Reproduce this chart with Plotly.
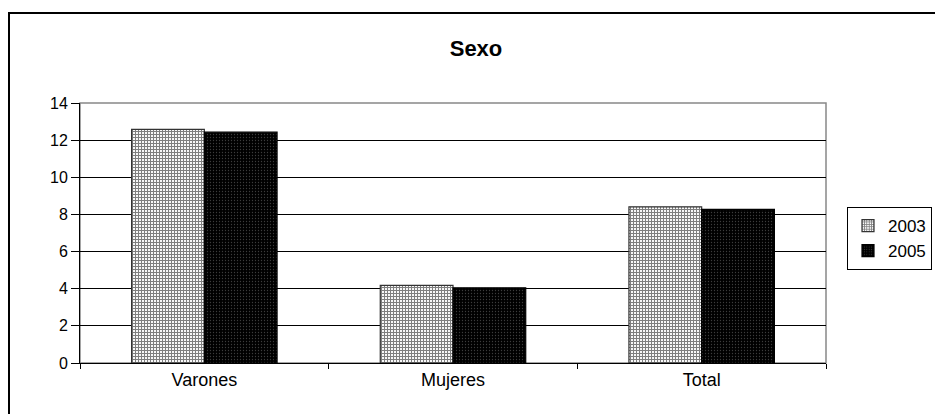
import plotly.graph_objects as go

categories = ["Varones", "Mujeres", "Total"]
series_names = ["2003", "2005"]
values_2003 = [12.58, 4.18, 8.41]
values_2005 = [12.43, 4.05, 8.27]
y_ticks = [0, 2, 4, 6, 8, 10, 12, 14]

W, H = 935, 414
# plot area in page pixels
L, R, T, B = 80, 826, 103, 363

pw = R - L
ph = B - T
def px(x): return (x - L) / pw
def py(y): return (B - y) / ph

fig = go.Figure()
fig.add_trace(go.Bar(
    x=categories, y=values_2003, name=series_names[0],
    marker=dict(color="white", line=dict(color="#333", width=1.2),
                pattern=dict(shape="+", fgcolor="black", bgcolor="white", size=3, solidity=0.6)),
))
fig.add_trace(go.Bar(
    x=categories, y=values_2005, name=series_names[1],
    marker=dict(color="black", line=dict(color="black", width=1.2),
                pattern=dict(shape=".", fgcolor="#777", bgcolor="black", size=3, solidity=0.15)),
))

fig.update_layout(
    width=W, height=H,
    margin=dict(l=L, r=W - R, t=T, b=H - B, autoexpand=False),
    paper_bgcolor="white", plot_bgcolor="white",
    barmode="group", bargap=0.415, bargroupgap=0,
    font=dict(family="Liberation Sans, Arial", size=15, color="black"),
    title=dict(text="<b>Sexo</b>", x=476 / W, xref="container", xanchor="center",
               y=1 - 48 / H, yref="container", yanchor="middle", font=dict(size=22)),
    xaxis=dict(type="category", showline=True, linecolor="black", linewidth=1,
               ticks="outside", tickson="boundaries", ticklen=5, tickcolor="black",
               showgrid=False, zeroline=False, tickfont=dict(size=18)),
    yaxis=dict(range=[0, 14], tickvals=y_ticks, showline=True, linecolor="black", linewidth=1,
               ticks="outside", ticklen=8, tickcolor="black", tickfont=dict(size=16),
               showgrid=True, gridcolor="black", gridwidth=1, zeroline=False),
    legend=dict(x=847 / W, y=1 - 207 / H, xref="container", yref="container",
                xanchor="left", yanchor="top",
                bordercolor="black", borderwidth=1, bgcolor="white",
                font=dict(size=17), tracegroupgap=2, itemwidth=30),
    shapes=[
        dict(type="rect", xref="paper", yref="paper", x0=0, x1=1, y0=0, y1=1,
             line=dict(color="#888", width=1.5), layer="below"),
        dict(type="rect", xref="paper", yref="paper", x0=px(9), x1=px(960), y0=py(440), y1=py(13),
             line=dict(color="black", width=2), layer="below"),
    ],
)

fig.write_html(
    "out.html",
    config={"displayModeBar": False},
    post_script="document.body.style.margin='0';document.body.style.overflow='hidden';",
)
